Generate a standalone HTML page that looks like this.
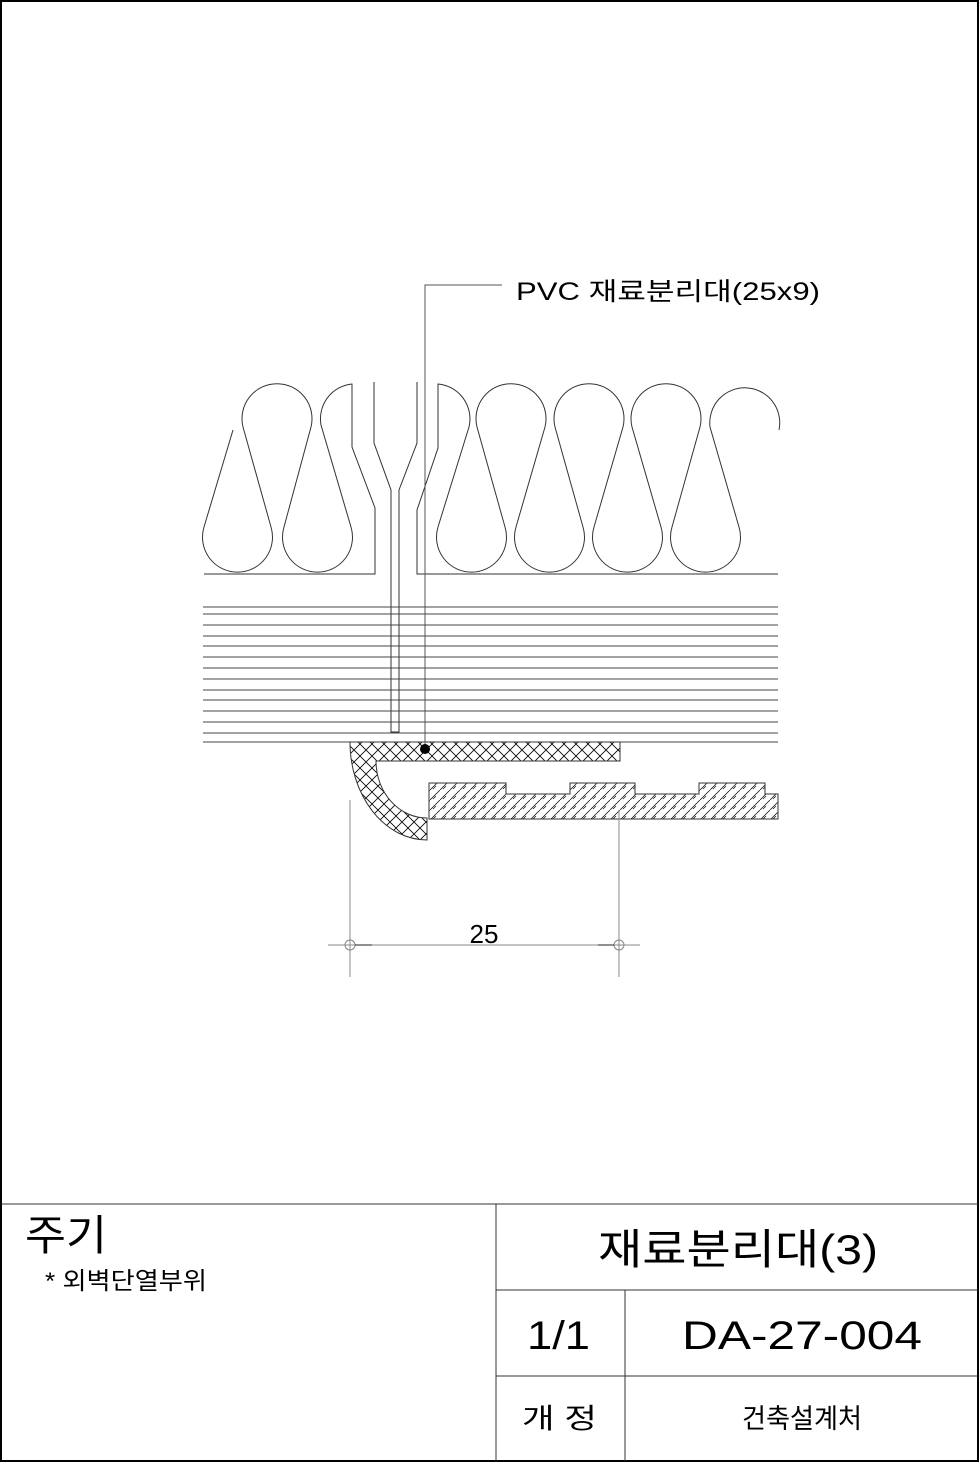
<!DOCTYPE html>
<html><head><meta charset="utf-8"><style>
html,body{margin:0;padding:0;background:#fff}
svg{display:block}
text{font-family:"Liberation Sans","Noto Sans CJK KR",sans-serif;fill:#000}
</style></head><body>
<svg width="980" height="1463" viewBox="0 0 980 1463">
<defs>
<pattern id="cross" width="12" height="12" patternUnits="userSpaceOnUse">
<path d="M0,0L12,12M12,0L0,12" stroke="#000" stroke-width="0.8"/>
</pattern>
<pattern id="diag" width="10" height="10" patternUnits="userSpaceOnUse">
<path d="M0,10L10,0" stroke="#000" stroke-width="0.7"/>
<path d="M3,9L6,6" stroke="#000" stroke-width="0.6"/>
</pattern>
</defs>
<rect x="1" y="1" width="977" height="1460" fill="none" stroke="#000" stroke-width="2"/>
<g fill="none" stroke="#333" stroke-width="1">
<path d="M233,430 L204,527 A35 35 0 1 0 271,527 L243,427 A35 35 0 1 1 311,427 L284,527 A35 35 0 1 0 351,527 L321,425 A35 35 0 0 1 352,384 L352,447 L375,508 L375,574 L204,574"/>
<path d="M374,382 L374,443 L391,490 L391,732 L399,732 L399,490 L417,443 L417,382"/>
<path d="M778,574 L417,574 L417,510 L438,448 L438,384 A35 35 0 0 1 469,427 L438,527 A35 35 0 1 0 505,527 L477,427 A35 35 0 1 1 545,427 L516,527 A35 35 0 1 0 583,527 L555,427 A35 35 0 1 1 623,427 L594,527 A35 35 0 1 0 661,527 L632,427 A35 35 0 1 1 700,427 L672,527 A35 35 0 1 0 739,527 L710,427 A35 35 0 1 1 779,430"/>
</g>
<g stroke="#444" stroke-width="1">
<line x1="203" y1="607" x2="778" y2="607"/><line x1="203" y1="614" x2="778" y2="614"/>
<line x1="203" y1="625" x2="778" y2="625"/><line x1="203" y1="636" x2="778" y2="636"/>
<line x1="203" y1="646" x2="778" y2="646"/><line x1="203" y1="657" x2="778" y2="657"/>
<line x1="203" y1="668" x2="778" y2="668"/><line x1="203" y1="679" x2="778" y2="679"/>
<line x1="203" y1="690" x2="778" y2="690"/><line x1="203" y1="700" x2="778" y2="700"/>
<line x1="203" y1="711" x2="778" y2="711"/><line x1="203" y1="722" x2="778" y2="722"/>
<line x1="203" y1="733" x2="778" y2="733"/><line x1="203" y1="742" x2="778" y2="742"/>
</g>
<path d="M350,742 L620,742 L620,761 L376,761 A51 57 0 0 0 427,818 L427,840 A77 98 0 0 1 350,742 Z" fill="url(#cross)" stroke="#333" stroke-width="1"/>
<path d="M429,819 L429,783 L506,783 L506,794 L570,794 L570,783 L635,783 L635,794 L699,794 L699,783 L765,783 L765,794 L778,794 L778,819 Z" fill="url(#diag)" stroke="#333" stroke-width="1"/>
<g>
<polyline points="425,749 425,285 502,285" fill="none" stroke="#555" stroke-width="1"/>
<circle cx="425" cy="749" r="5" fill="#000"/>
</g>
<text x="516" y="300" font-size="25" textLength="304" lengthAdjust="spacingAndGlyphs">PVC 재료분리대(25x9)</text>
<g stroke="#888" stroke-width="1" fill="none">
<line x1="350" y1="800" x2="350" y2="977"/><line x1="619" y1="810" x2="619" y2="977"/>
<line x1="328" y1="945" x2="640" y2="945"/>
<circle cx="350" cy="945" r="5"/><circle cx="619" cy="945" r="5"/>
<line x1="355" y1="945" x2="372" y2="945" stroke="#222"/><line x1="598" y1="945" x2="614" y2="945" stroke="#222"/>
</g>
<text x="484" y="943" font-size="26" text-anchor="middle">25</text>
<g stroke="#333" stroke-width="1">
<line x1="1" y1="1204" x2="978" y2="1204"/>
<line x1="496" y1="1204" x2="496" y2="1461"/>
<line x1="496" y1="1290" x2="978" y2="1290"/>
<line x1="496" y1="1376" x2="978" y2="1376"/>
<line x1="625" y1="1290" x2="625" y2="1461"/>
</g>
<text x="25" y="1250" font-size="42" textLength="82" lengthAdjust="spacingAndGlyphs">주기</text>
<text x="45" y="1289" font-size="24" textLength="162" lengthAdjust="spacingAndGlyphs">* 외벽단열부위</text>
<text x="598" y="1264" font-size="42" textLength="280" lengthAdjust="spacingAndGlyphs">재료분리대(3)</text>
<text x="527" y="1349" font-size="40" textLength="63" lengthAdjust="spacingAndGlyphs">1/1</text>
<text x="682" y="1349" font-size="40" textLength="240" lengthAdjust="spacingAndGlyphs">DA-27-004</text>
<text x="522" y="1428" font-size="28" textLength="75" lengthAdjust="spacingAndGlyphs">개 정</text>
<text x="742" y="1428" font-size="27" textLength="120" lengthAdjust="spacingAndGlyphs">건축설계처</text>
</svg>
</body></html>
